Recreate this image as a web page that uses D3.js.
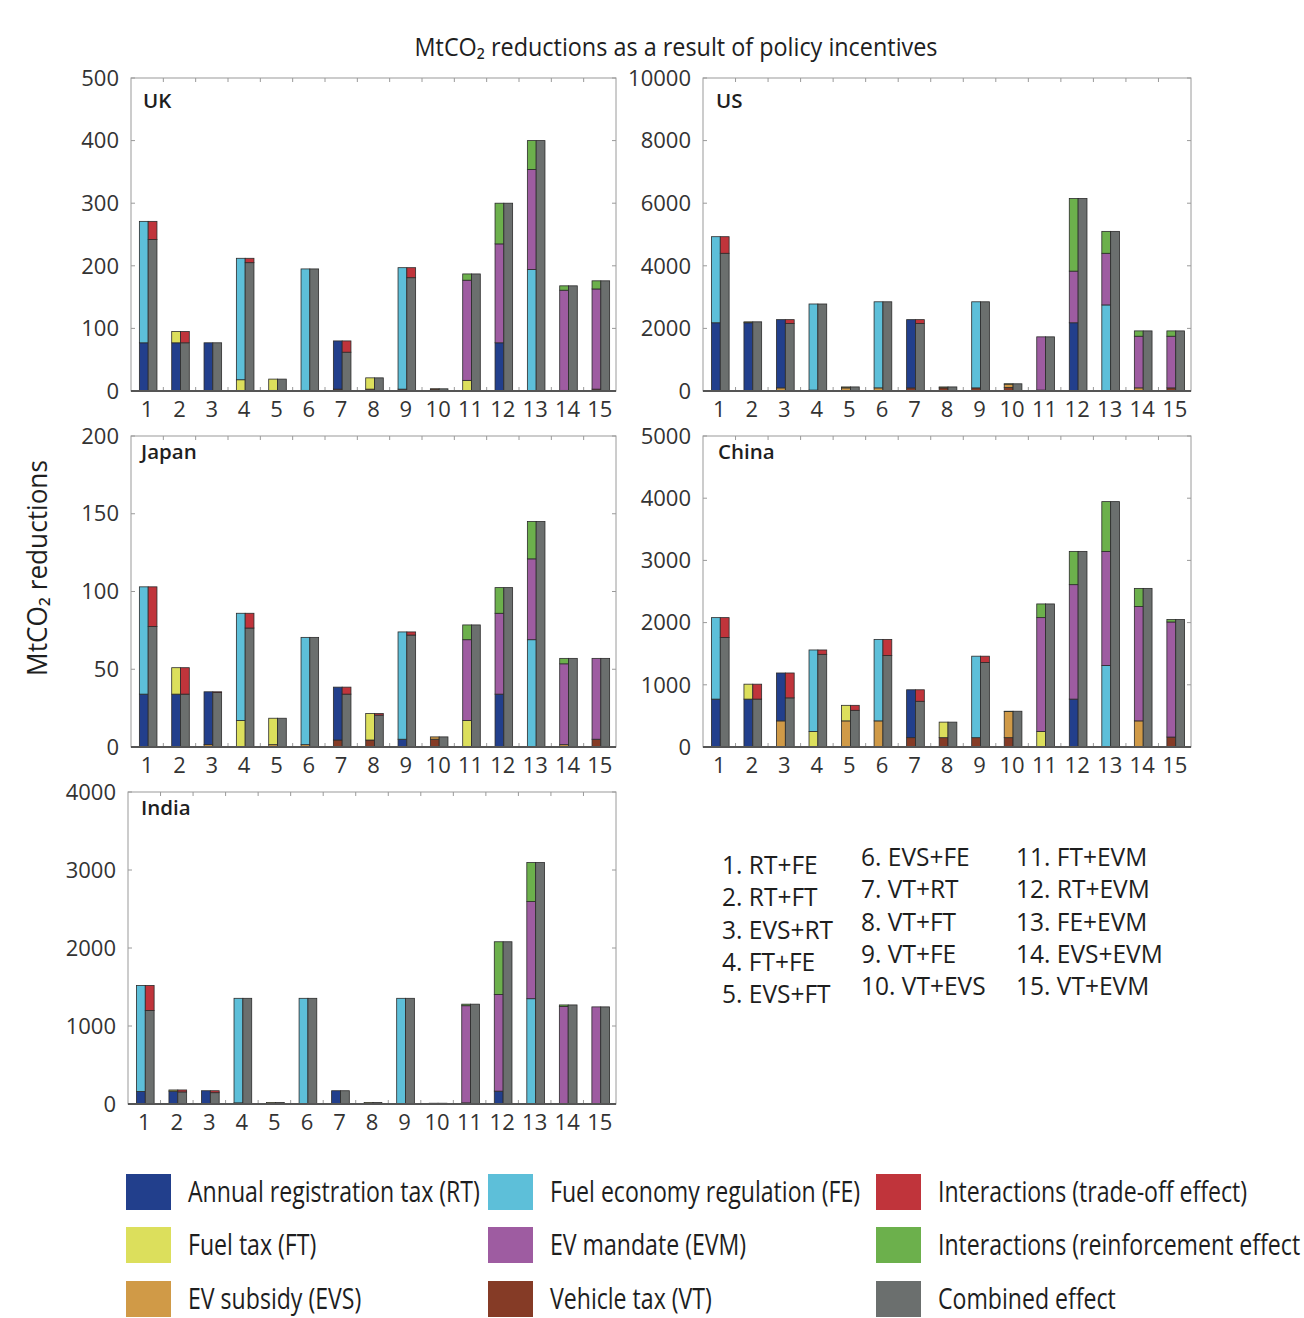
<!DOCTYPE html>
<html>
<head>
<meta charset="utf-8">
<script src="https://cdn.jsdelivr.net/npm/d3@7"></script>
<style>
  body { margin: 0; background: #fff; }
  svg { display: block; }
  text { font-family: "Open Sans", "Noto Sans", "DejaVu Sans", sans-serif; }
</style>
</head>
<body>
<svg id="chart" width="1304" height="1318"></svg>
<script>
// Policy combinations shown on every x axis
const groupIds = d3.range(1, 16);
const comboLabels = [
  "1. RT+FE", "2. RT+FT", "3. EVS+RT", "4. FT+FE", "5. EVS+FT",
  "6. EVS+FE", "7. VT+RT", "8. VT+FT", "9. VT+FE", "10. VT+EVS",
  "11. FT+EVM", "12. RT+EVM", "13. FE+EVM", "14. EVS+EVM", "15. VT+EVM"
];

// Single-policy contributions are stacked bottom-up in this order
const policyKeys = ["VT", "EVS", "RT", "FT", "FE", "EVM"];

// UK (MtCO2)
const ukRT  = [77, 77, 77, 0, 0, 0, 77, 0, 0, 0, 0, 77, 0, 0, 0];
const ukFT  = [0, 18, 0, 18, 18, 0, 0, 18, 0, 0, 17, 0, 0, 0, 0];
const ukEVS = [0, 0, 0, 0, 1, 1, 0, 0, 0, 0.5, 0, 0, 0, 1, 0];
const ukFE  = [194, 0, 0, 194, 0, 194, 0, 0, 194, 0, 0, 0, 194, 0, 0];
const ukEVM = [0, 0, 0, 0, 0, 0, 0, 0, 0, 0, 160, 158, 160, 160, 160];
const ukVT  = [0, 0, 0, 0, 0, 0, 3, 3, 3, 3, 0, 0, 0, 0, 3];
const ukCombined = [242, 77, 77, 205, 19, 195, 62, 21, 181, 3.5, 187, 300, 400, 168, 176];
const ukTicks = [0, 100, 200, 300, 400, 500];

// US (MtCO2)
const usRT  = [2180, 2180, 2180, 0, 0, 0, 2180, 0, 0, 0, 0, 2180, 0, 0, 0];
const usFT  = [0, 30, 0, 30, 30, 0, 0, 30, 0, 0, 30, 0, 0, 0, 0];
const usEVS = [0, 0, 100, 0, 100, 100, 0, 0, 0, 110, 0, 0, 0, 100, 0];
const usFE  = [2750, 0, 0, 2750, 0, 2750, 0, 0, 2750, 0, 0, 0, 2750, 0, 0];
const usEVM = [0, 0, 0, 0, 0, 0, 0, 0, 0, 0, 1700, 1650, 1650, 1650, 1650];
const usVT  = [0, 0, 0, 0, 0, 0, 100, 100, 100, 110, 0, 0, 0, 0, 100];
const usCombined = [4400, 2210, 2160, 2780, 130, 2850, 2160, 130, 2850, 230, 1730, 6150, 5100, 1920, 1920];
const usTicks = [0, 2000, 4000, 6000, 8000, 10000];

// Japan (MtCO2)
const jpRT  = [34, 34, 34, 0, 0, 0, 34, 0, 5, 0, 0, 34, 0, 0, 0];
const jpFT  = [0, 17, 0, 17, 17, 0, 0, 17, 0, 0, 17, 0, 0, 0, 0];
const jpEVS = [0, 0, 1.5, 0, 1.5, 1.5, 0, 0, 0, 1.5, 0, 0, 0, 1.5, 0];
const jpFE  = [69, 0, 0, 69, 0, 69, 0, 0, 69, 0, 0, 0, 69, 0, 0];
const jpEVM = [0, 0, 0, 0, 0, 0, 0, 0, 0, 0, 52, 52, 52, 52, 52];
const jpVT  = [0, 0, 0, 0, 0, 0, 4.5, 4.5, 0, 5, 0, 0, 0, 0, 5];
const jpCombined = [77.5, 34, 35, 76.5, 18.5, 70.5, 34, 20.5, 72, 6.5, 78.5, 102.5, 145, 57, 57];
const jpTicks = [0, 50, 100, 150, 200];

// China (MtCO2)
const cnRT  = [770, 770, 770, 0, 0, 0, 770, 0, 0, 0, 0, 770, 0, 0, 0];
const cnFT  = [0, 240, 0, 250, 250, 0, 0, 250, 0, 0, 250, 0, 0, 0, 0];
const cnEVS = [0, 0, 420, 0, 420, 420, 0, 0, 0, 420, 0, 0, 0, 420, 0];
const cnFE  = [1310, 0, 0, 1310, 0, 1310, 0, 0, 1310, 0, 0, 0, 1310, 0, 0];
const cnEVM = [0, 0, 0, 0, 0, 0, 0, 0, 0, 0, 1830, 1840, 1835, 1840, 1850];
const cnVT  = [0, 0, 0, 0, 0, 0, 150, 150, 150, 150, 0, 0, 0, 0, 160];
const cnCombined = [1760, 770, 790, 1490, 590, 1470, 735, 400, 1360, 575, 2300, 3145, 3945, 2550, 2050];
const cnTicks = [0, 1000, 2000, 3000, 4000, 5000];

// India (MtCO2)
const inRT  = [160, 165, 165, 0, 0, 0, 165, 0, 0, 0, 0, 165, 0, 0, 0];
const inFT  = [0, 15, 0, 15, 15, 0, 0, 15, 0, 0, 15, 0, 0, 0, 0];
const inEVS = [0, 0, 5, 0, 5, 5, 0, 0, 0, 5, 0, 0, 0, 5, 0];
const inFE  = [1360, 0, 0, 1340, 0, 1350, 0, 0, 1350, 0, 0, 0, 1350, 0, 0];
const inEVM = [0, 0, 0, 0, 0, 0, 0, 0, 0, 0, 1245, 1240, 1245, 1245, 1240];
const inVT  = [0, 0, 0, 0, 0, 0, 5, 5, 5, 5, 0, 0, 0, 0, 5];
const inCombined = [1200, 155, 145, 1355, 20, 1355, 170, 20, 1355, 10, 1280, 2080, 3095, 1270, 1245];
const inTicks = [0, 1000, 2000, 3000, 4000];

const seriesColors = {
  RT: "#223f8c", FT: "#dcdf5c", EVS: "#d09a47",
  FE: "#5dbfd9", EVM: "#9e5ca1", VT: "#853b26",
  TRADE: "#c0343b", REINF: "#6cb04c", COMB: "#6b6f6e"
};

// Legend, laid out column by column
const legendColumns = [
  ["RT", "FT", "EVS"],
  ["FE", "EVM", "VT"],
  ["TRADE", "REINF", "COMB"]
];
const legendNames = {
  RT: "Annual registration tax (RT)", FT: "Fuel tax (FT)", EVS: "EV subsidy (EVS)",
  FE: "Fuel economy regulation (FE)", EVM: "EV mandate (EVM)", VT: "Vehicle tax (VT)",
  TRADE: "Interactions (trade-off effect)", REINF: "Interactions (reinforcement effect",
  COMB: "Combined effect"
};

// Turn the per-policy arrays of one country into table rows
function buildRows(series, combined) {
  return groupIds.map((g, i) => {
    const row = { group: g };
    policyKeys.forEach(k => { row[k] = series[k][i]; });
    const sum = d3.sum(policyKeys, k => row[k]);
    row.COMB = combined[i];
    row.REINF = Math.max(0, combined[i] - sum);   // combined exceeds the sum
    row.TRADE = Math.max(0, sum - combined[i]);   // combined falls short of the sum
    return row;
  });
}

const panels = [
  { name: "UK", rows: buildRows({RT: ukRT, FT: ukFT, EVS: ukEVS, FE: ukFE, EVM: ukEVM, VT: ukVT}, ukCombined),
    ticks: ukTicks, box: [131, 616, 78, 391], label: [143, 108] },
  { name: "US", rows: buildRows({RT: usRT, FT: usFT, EVS: usEVS, FE: usFE, EVM: usEVM, VT: usVT}, usCombined),
    ticks: usTicks, box: [703, 1191, 78, 391], label: [716, 108] },
  { name: "Japan", rows: buildRows({RT: jpRT, FT: jpFT, EVS: jpEVS, FE: jpFE, EVM: jpEVM, VT: jpVT}, jpCombined),
    ticks: jpTicks, box: [131, 616, 436, 747], label: [141, 459] },
  { name: "China", rows: buildRows({RT: cnRT, FT: cnFT, EVS: cnEVS, FE: cnFE, EVM: cnEVM, VT: cnVT}, cnCombined),
    ticks: cnTicks, box: [703, 1191, 436, 747], label: [718, 459] },
  { name: "India", rows: buildRows({RT: inRT, FT: inFT, EVS: inEVS, FE: inFE, EVM: inEVM, VT: inVT}, inCombined),
    ticks: inTicks, box: [128, 616, 792, 1104], label: [141, 815] }
];

const svg = d3.select("#chart");
svg.append("rect").attr("width", 1304).attr("height", 1318).attr("fill", "#fff");

// Text helper: horizontally condensed text anchored at (x, y)
function addText(parent, str, x, y, opt = {}) {
  const t = parent.append("text")
    .attr("transform", `translate(${x},${y})${opt.rotate ? ` rotate(${opt.rotate})` : ""} scale(${opt.sx || 1},1)`)
    .attr("font-size", opt.size || 20)
    .attr("font-weight", opt.weight || 400)
    .attr("fill", opt.fill || "#333")
    .attr("text-anchor", opt.anchor || "start")
    .text(str);
  if (opt.dy) t.attr("dy", opt.dy);
  return t;
}

const leftStack = d3.stack().keys([...policyKeys, "REINF"]);
const rightStack = d3.stack().keys(["COMB", "TRADE"]);

panels.forEach(p => {
  const [x0, x1, y0, y1] = p.box;
  const g = svg.append("g").attr("class", "panel");
  const x = d3.scaleBand().domain(groupIds).range([x0, x1]).paddingInner(0).paddingOuter(0);
  const y = d3.scaleLinear().domain([0, d3.max(p.ticks)]).range([y1, y0]);
  const barW = x.bandwidth() * 0.272;

  // Bars: stacked single-policy effects (left) and combined effect (right)
  const drawStack = (layers, offset) => {
    layers.forEach(layer => {
      g.append("g").selectAll("rect")
        .data(layer.filter(d => d[1] - d[0] > 0))
        .join("rect")
        .attr("x", d => x(d.data.group) + x.bandwidth() / 2 + 1 + offset * barW)
        .attr("width", barW)
        .attr("y", d => y(d[1]))
        .attr("height", d => y(d[0]) - y(d[1]))
        .attr("fill", seriesColors[layer.key])
        .attr("stroke", "#2b2b2b")
        .attr("stroke-width", 0.8);
    });
  };
  drawStack(leftStack(p.rows), -1);
  drawStack(rightStack(p.rows), 0);

  // Box frame with inward ticks
  const frame = g.append("g").attr("stroke", "#9a9a9a").attr("stroke-width", 1).attr("fill", "none");
  frame.append("rect").attr("x", x0).attr("y", y0).attr("width", x1 - x0).attr("height", y1 - y0);
  p.ticks.forEach(v => {
    frame.append("line").attr("x1", x0).attr("x2", x0 + 4).attr("y1", y(v)).attr("y2", y(v));
    frame.append("line").attr("x1", x1).attr("x2", x1 - 4).attr("y1", y(v)).attr("y2", y(v));
  });
  groupIds.slice(1).forEach(k => {
    const bx = x(k);
    frame.append("line").attr("x1", bx).attr("x2", bx).attr("y1", y0).attr("y2", y0 + 4);
    frame.append("line").attr("x1", bx).attr("x2", bx).attr("y1", y1).attr("y2", y1 - 4);
  });
  g.append("line").attr("x1", x0).attr("x2", x1).attr("y1", y1).attr("y2", y1)
    .attr("stroke", "#555").attr("stroke-width", 2);

  // Y tick labels
  p.ticks.forEach(v => {
    addText(g, String(v), x0 - 12, y(v), { size: 22, anchor: "end", dy: "0.35em", fill: "#333" });
  });
  // X tick labels
  groupIds.forEach(k => {
    addText(g, String(k), x(k) + x.bandwidth() / 2, y1 + 26, { size: 22, anchor: "middle", fill: "#333" });
  });
  // Country label
  addText(g, p.name, p.label[0], p.label[1], { size: 20.5, weight: 600, fill: "#1e1e1e" });
});

// Title and shared y-axis label
addText(svg, "MtCO\u2082 reductions as a result of policy incentives", 676, 56,
  { size: 26, anchor: "middle", sx: 0.9, fill: "#1e1e1e" });
addText(svg, "MtCO\u2082 reductions", 47, 568,
  { size: 27, anchor: "middle", sx: 0.97, rotate: -90, fill: "#1e1e1e" });

// Numbered list of policy combinations
const listCols = [
  { x: 722, y: 874, items: comboLabels.slice(0, 5) },
  { x: 861, y: 866, items: comboLabels.slice(5, 10) },
  { x: 1016, y: 866, items: comboLabels.slice(10, 15) }
];
listCols.forEach(c => {
  c.items.forEach((s, i) => {
    addText(svg, s, c.x, c.y + i * 32.3, { size: 25, sx: 0.98, fill: "#1e1e1e" });
  });
});

// Colour legend
const legendX = [126, 488, 876];
const legendY = [1174, 1227, 1281];
legendColumns.forEach((col, ci) => {
  col.forEach((key, ri) => {
    svg.append("rect")
      .attr("x", legendX[ci]).attr("y", legendY[ri])
      .attr("width", 45).attr("height", 36)
      .attr("fill", seriesColors[key]);
    addText(svg, legendNames[key], legendX[ci] + 62, legendY[ri] + 28,
      { size: 30, sx: 0.77, fill: "#1e1e1e" });
  });
});
</script>
</body>
</html>
